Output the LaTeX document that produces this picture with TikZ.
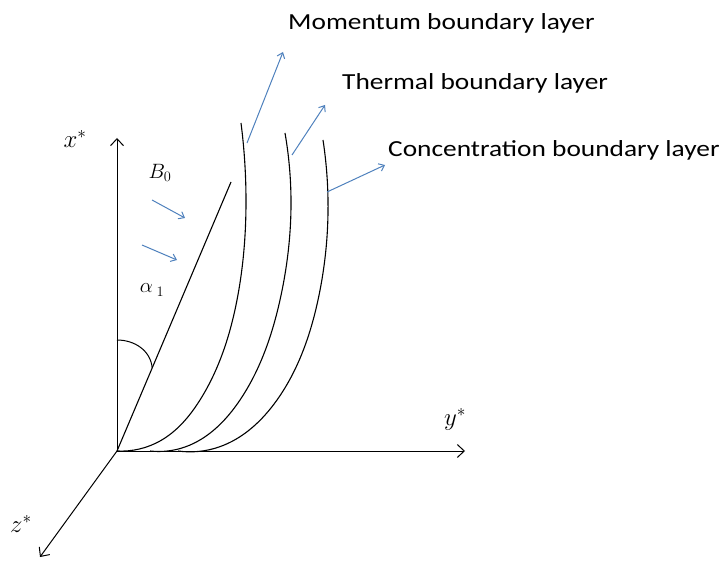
\documentclass[tikz,border=0pt]{standalone}
\usepackage{fontspec}
\newfontfamily\lblfont{Carlito}
\usetikzlibrary{hobby,arrows.meta}
\definecolor{arrowblue}{RGB}{79,129,189}

\tikzset{
  axis/.style={line width=1pt, -{Straight Barb[length=7pt,width=13pt]}},
  layer/.style={line width=1.1pt},
  field/.style={arrowblue, line width=1pt, -{Straight Barb[length=5pt,width=8pt]}},
  layer label/.style={anchor=base west, inner sep=0pt, font=\lblfont\fontsize{23}{27}\selectfont},
  axis label/.style={inner sep=0pt, font=\fontsize{25}{29}\selectfont},
  sym label/.style={inner sep=0pt, font=\fontsize{22}{26}\selectfont}
}

\begin{document}
\begin{tikzpicture}[x=1pt, y=1pt, use Hobby shortcut]
    \useasboundingbox (0,0) rectangle (727,560);

    % AXES
    \coordinate (O) at (117,109);
    \coordinate (xend) at (117,422);
    \coordinate (yend) at (465,109);
    \coordinate (zend) at (40,3);
    \draw[axis] (O) -- (xend);
    \draw[axis] (O) -- (yend);
    \draw[axis] (O) -- (zend);
    \node[axis label] (xlab) at (75,421) {$x^{*}$};
    \node[axis label] (ylab) at (455,141) {$y^{*}$};
    \node[axis label] (zlab) at (21,36) {$z^{*}$};

    % INCLINED PLATE AND ANGLE
    \coordinate (plate) at (231,378);
    \draw[layer] (O) -- (plate);
    \coordinate (a1) at (117,220);
    \coordinate (a2) at (152.2,192);
    \draw[line width=1pt] (a1) to[out=0,in=95] (a2);
    \node[sym label] (alpha) at (152,270) {$\alpha_{\;1}$};

    % MAGNETIC FIELD
    \node[sym label] (B) at (160,387) {$B_{0}$};
    \coordinate (b1s) at (152,360);
    \coordinate (b1e) at (185,342);
    \coordinate (b2s) at (142,315);
    \coordinate (b2e) at (177,300);
    \draw[field] (b1s) -- (b1e);
    \draw[field] (b2s) -- (b2e);

    % BOUNDARY LAYERS
    \draw[layer] (117,109) .. (160,119) .. (200,160) .. (237,260) .. (246,360) .. (241,437);
    \draw[layer] (150,109) .. (185,113) .. (240,160) .. (280,260) .. (291,360) .. (285,427);
    \draw[layer] (178,109) .. (219,113) .. (277,160) .. (318,260) .. (328,360) .. (323,420);

    % LABELS
    \node[layer label] (mom) at (288,530) {\scalebox{1.19}[1]{Momentum boundary layer}};
    \node[layer label] (therm) at (342,470) {\scalebox{1.19}[1]{Thermal boundary layer}};
    \node[layer label] (conc) at (388,403) {\scalebox{1.19}[1]{Concentration boundary layer}};
    \coordinate (m1) at (247,417);
    \coordinate (m2) at (283,508);
    \coordinate (t1) at (292,405);
    \coordinate (t2) at (325,455);
    \coordinate (c1) at (327,368);
    \coordinate (c2) at (385,395);
    \draw[field] (m1) -- (m2);
    \draw[field] (t1) -- (t2);
    \draw[field] (c1) -- (c2);

\end{tikzpicture}
\end{document}
